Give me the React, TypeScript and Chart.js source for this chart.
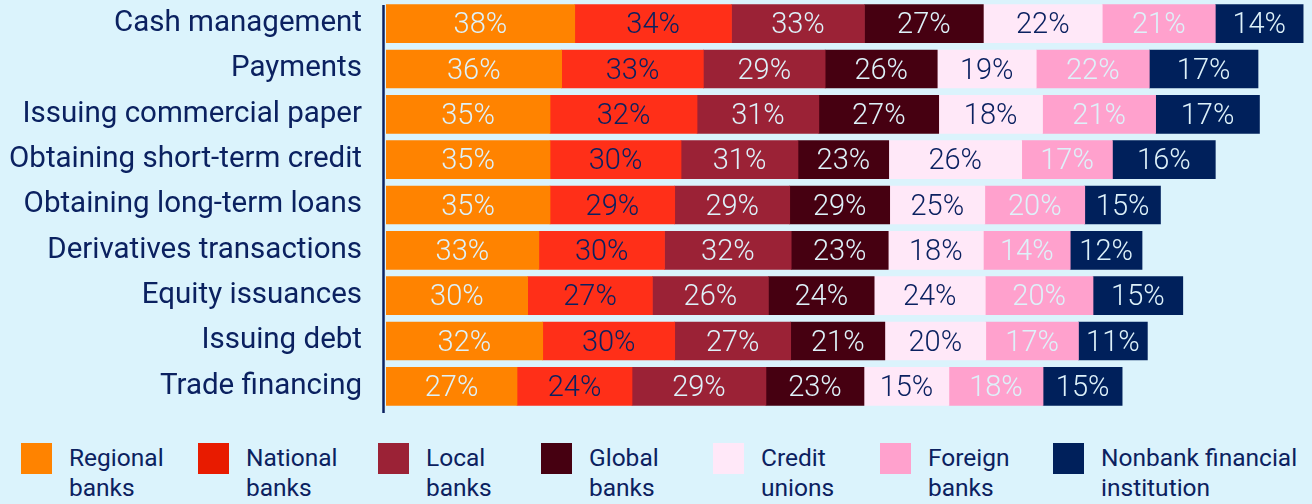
import React, { useEffect, useRef } from 'react';
import { Chart, registerables } from 'chart.js';

Chart.register(...registerables);

// ---------- data ----------
const categories = [
  'Cash management',
  'Payments',
  'Issuing commercial paper',
  'Obtaining short-term credit',
  'Obtaining long-term loans',
  'Derivatives transactions',
  'Equity issuances',
  'Issuing debt',
  'Trade financing',
];

const seriesNames = [
  'Regional banks',
  'National banks',
  'Local banks',
  'Global banks',
  'Credit unions',
  'Foreign banks',
  'Nonbank financial institution',
];

const legendLines = [
  ['Regional', 'banks'],
  ['National', 'banks'],
  ['Local', 'banks'],
  ['Global', 'banks'],
  ['Credit', 'unions'],
  ['Foreign', 'banks'],
  ['Nonbank financial', 'institution'],
];

// printed percentages
const regionalPct = [38, 36, 35, 35, 35, 33, 30, 32, 27];
const nationalPct = [34, 33, 32, 30, 29, 30, 27, 30, 24];
const localPct = [33, 29, 31, 31, 29, 32, 26, 27, 29];
const globalPct = [27, 26, 27, 23, 29, 23, 24, 21, 23];
const creditPct = [22, 19, 18, 26, 25, 18, 24, 20, 15];
const foreignPct = [21, 22, 21, 17, 20, 14, 20, 17, 18];
const nonbankPct = [14, 17, 17, 16, 15, 12, 15, 11, 15];

// segment lengths as drawn in the reference
const regionalLen = [38.9, 36.2, 33.8, 33.8, 33.8, 31.5, 29.2, 32.3, 27.0];
const nationalLen = [32.3, 29.2, 30.3, 27.0, 25.7, 25.9, 25.7, 27.2, 23.7];
const localLen = [27.4, 25.1, 25.1, 24.1, 23.7, 26.1, 23.9, 23.9, 27.6];
const globalLen = [24.5, 23.1, 24.7, 18.7, 20.6, 20.0, 21.8, 19.4, 20.2];
const creditLen = [24.5, 20.4, 21.4, 27.4, 19.6, 19.6, 22.9, 20.8, 17.5];
const foreignLen = [23.3, 23.3, 23.3, 18.7, 20.6, 17.9, 22.2, 19.1, 19.4];
const nonbankLen = [18.1, 22.4, 21.4, 21.2, 15.6, 14.8, 18.5, 14.2, 16.3];

const xMax = 190;

// ---------- style ----------
const NAVY = '#0b2160';
const LIGHT = '#def2fa';
const BG = '#dbf3fc';
const FONT = 'Roboto, "Liberation Sans", Arial, sans-serif';

const colors = ['#ff8300', '#ff2f18', '#9b2236', '#460011', '#ffe8f8', '#ffa1cd', '#00205b'];
const legendColors = ['#ff8300', '#e81b00', '#9b2236', '#460011', '#ffe8f8', '#ffa1cd', '#00205b'];
const labelColors = [LIGHT, NAVY, LIGHT, LIGHT, NAVY, LIGHT, LIGHT];
const legendLeft = [21, 198, 378, 541, 713, 880, 1053];

const lengths = [regionalLen, nationalLen, localLen, globalLen, creditLen, foreignLen, nonbankLen];
const pcts = [regionalPct, nationalPct, localPct, globalPct, creditPct, foreignPct, nonbankPct];

const segLabelPlugin = {
  id: 'segLabels',
  afterDatasetsDraw(chart: any) {
    const ctx = chart.ctx;
    ctx.save();
    ctx.font = `300 29px ${FONT}`;
    ctx.textAlign = 'center';
    ctx.textBaseline = 'alphabetic';
    chart.data.datasets.forEach((ds: any, i: number) => {
      const meta = chart.getDatasetMeta(i);
      meta.data.forEach((bar: any, j: number) => {
        const p = bar.getProps(['x', 'y', 'base'], true);
        ctx.fillStyle = labelColors[i];
        ctx.fillText(`${pcts[i][j]}%`, (p.x + p.base) / 2, p.y + 9.8);
      });
    });
    ctx.restore();
  },
};

const axisLinePlugin = {
  id: 'axisLine',
  afterDraw(chart: any) {
    const ctx = chart.ctx;
    const { left, top, bottom } = chart.chartArea;
    ctx.save();
    ctx.strokeStyle = NAVY;
    ctx.lineWidth = 2.5;
    ctx.beginPath();
    ctx.moveTo(left - 2.5, top + 4);
    ctx.lineTo(left - 2.5, bottom + 4);
    ctx.stroke();
    ctx.restore();
  },
};

export default function App() {
  const ref = useRef<HTMLCanvasElement | null>(null);

  useEffect(() => {
    document.body.style.margin = '0';
    document.body.style.background = BG;
    const chart = new Chart(ref.current as HTMLCanvasElement, {
      type: 'bar',
      data: {
        labels: categories,
        datasets: seriesNames.map((name, i) => ({
          label: name,
          data: lengths[i],
          backgroundColor: colors[i],
          borderWidth: 0,
          barThickness: 38,
        })),
      },
      options: {
        indexAxis: 'y',
        responsive: false,
        maintainAspectRatio: false,
        animation: false,
        layout: { padding: { top: 1, bottom: 11, left: 0, right: 4 } },
        plugins: {
          legend: { display: false },
          tooltip: { enabled: false },
        },
        scales: {
          x: {
            stacked: true,
            min: 0,
            max: xMax,
            display: false,
          },
          y: {
            stacked: true,
            grid: { display: false, drawTicks: true, tickLength: 24 },
            border: { display: false },
            ticks: {
              color: NAVY,
              padding: 0,
              font: { family: FONT, size: 29.5, lineHeight: 0.05 },
            },
            afterFit(scale: any) {
              scale.width = 386;
            },
          },
        },
      },
      plugins: [segLabelPlugin, axisLinePlugin],
    });
    return () => chart.destroy();
  }, []);

  return (
    <div style={{ position: 'fixed', left: 0, top: 0, width: 1312, height: 504, background: BG, overflow: 'hidden' }}>
      <canvas ref={ref} width={1312} height={420} style={{ display: 'block' }} />
      {seriesNames.map((name, i) => (
        <div
          key={name}
          style={{ position: 'absolute', left: legendLeft[i], top: 443, display: 'flex', alignItems: 'flex-start' }}
        >
          <div style={{ width: 31, height: 31, background: legendColors[i], flex: 'none' }} />
          <div
            style={{
              marginLeft: 17,
              marginTop: 0,
              color: NAVY,
              fontFamily: FONT,
              fontSize: 24.5,
              lineHeight: '29.5px',
              whiteSpace: 'nowrap',
            }}
          >
            {legendLines[i].map((t) => (
              <div key={t}>{t}</div>
            ))}
          </div>
        </div>
      ))}
    </div>
  );
}
